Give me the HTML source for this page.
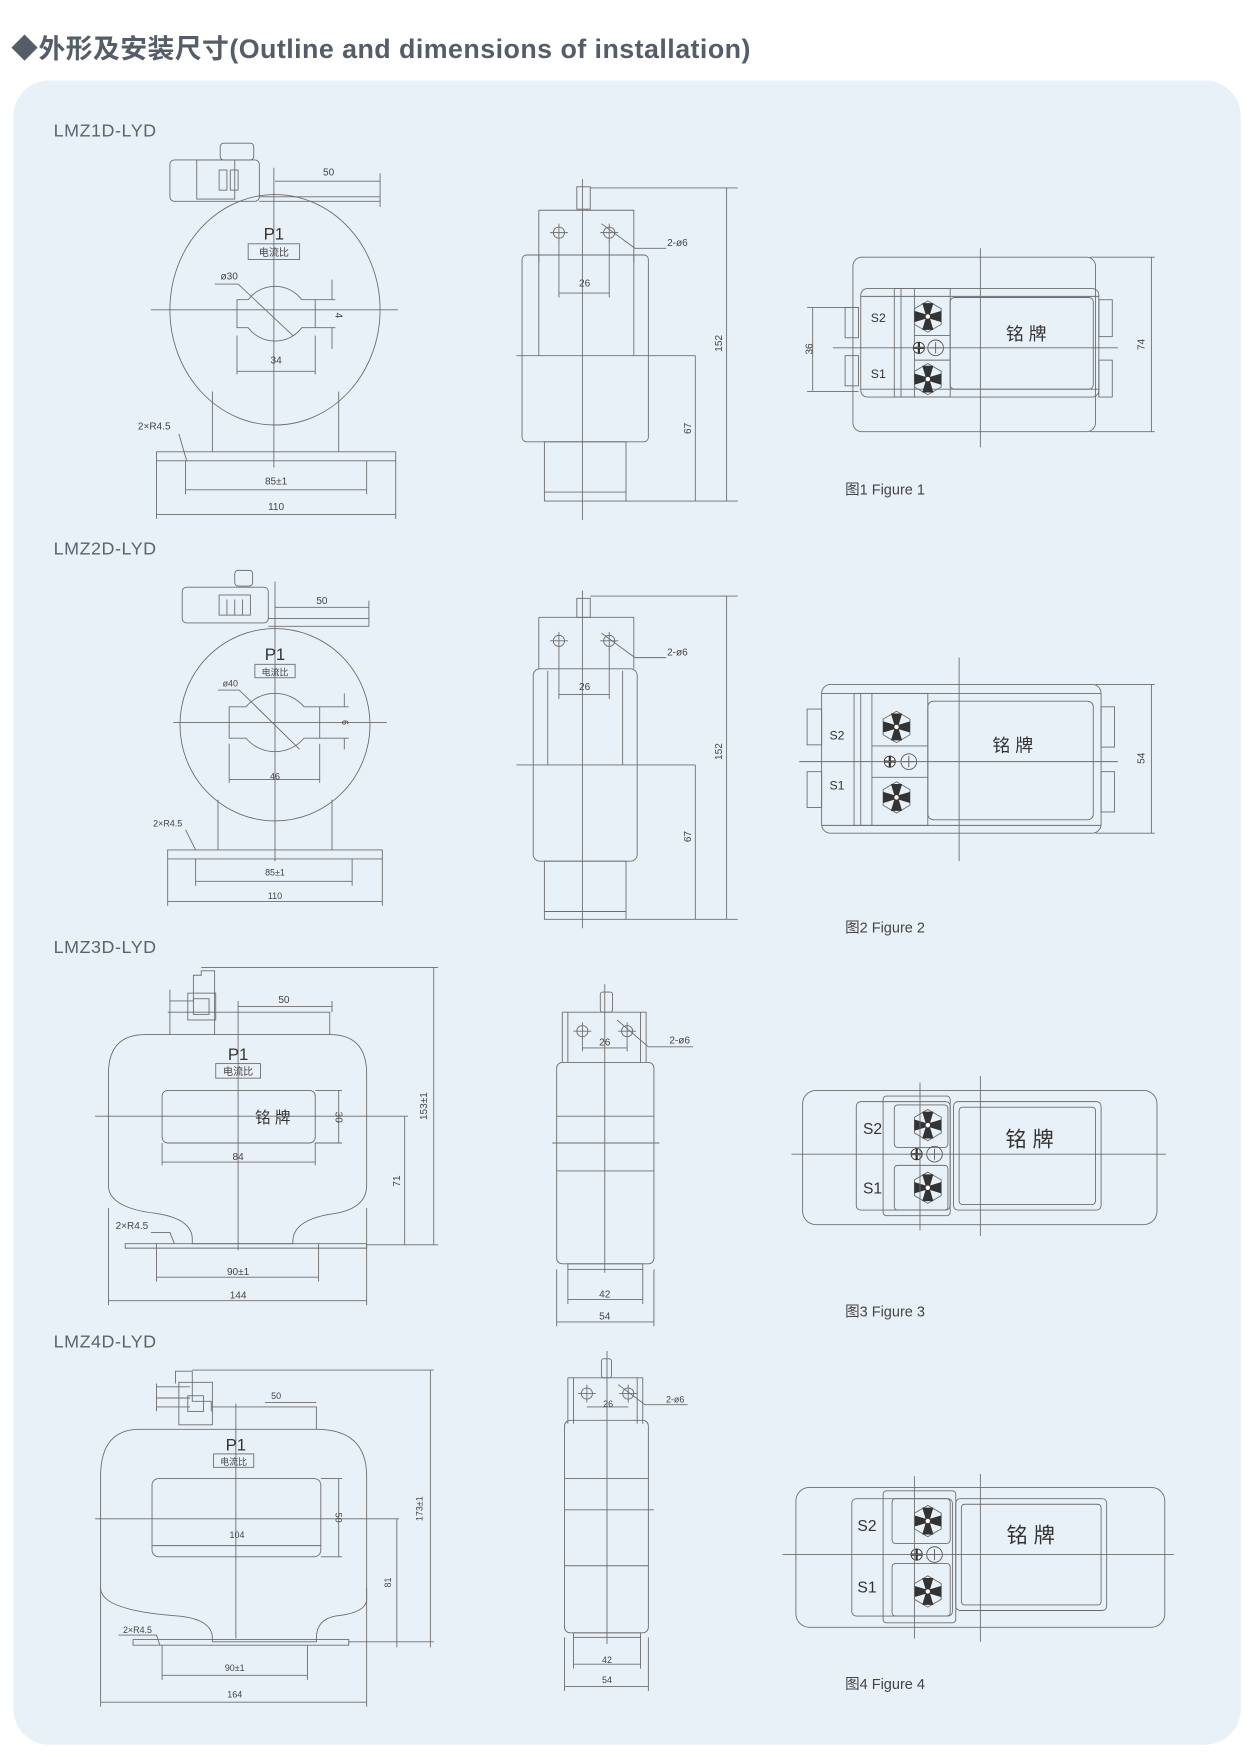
<!DOCTYPE html>
<html><head><meta charset="utf-8"><style>
html,body{margin:0;padding:0;background:#fff;}
svg{display:block;}
text{font-family:"Liberation Sans","Noto Sans CJK SC",sans-serif;fill:#555;}
.l{stroke:#6d6d6d;stroke-width:0.8;fill:none;}
.d{font-size:9px;text-anchor:middle;fill:#444;}
.t{font-size:16px;fill:#5a6470;letter-spacing:0.5px;}
</style></head><body>
<svg width="1252" height="1757" viewBox="0 0 1120 1571" preserveAspectRatio="none" xmlns="http://www.w3.org/2000/svg">
<defs>
<g id="fan"><polygon points="0,-14 12,-7 12,7 0,14 -12,7 -12,-7" class="l"/>
<path d="M-2,-2 L-5,-12 L5,-12 L2,-2 L12,-5 L12,5 L2,2 L5,12 L-5,12 L-2,2 L-12,5 L-12,-5Z" fill="#333"/><circle r="2" fill="#fff"/></g>
<g id="fans"><circle r="5" fill="#fff" stroke="#333" stroke-width="0.8"/><path d="M0,-5V5M-5,0H5" stroke="#333" stroke-width="2"/></g>
<g id="plus"><circle r="7" fill="none" stroke="#555" stroke-width="0.8"/><path d="M0,-5V5M-5,0H5" stroke="#555" stroke-width="0.8"/></g>
<g id="hole"><circle r="5" class="l"/><path d="M0,-8V8M-8,0H8" class="l"/></g>
</defs>
<rect x="0" y="0" width="1120" height="1571" fill="#fff"/>
<text x="10" y="52" style="font-size:24px;font-weight:bold;fill:#555d68;letter-spacing:0.4px">◆外形及安装尺寸(Outline and dimensions of installation)</text>
<rect x="12" y="72" width="1098" height="1488" rx="32" fill="#e9f1f8"/>

<text x="48" y="122" class="t">LMZ1D-LYD</text>
<text x="48" y="496" class="t">LMZ2D-LYD</text>
<text x="48" y="852" class="t">LMZ3D-LYD</text>
<text x="48" y="1205" class="t">LMZ4D-LYD</text>

<!-- FIG 1 front -->
<g>
<rect x="152" y="143" width="80" height="37" rx="4" class="l"/>
<rect x="176" y="143" width="34" height="35" class="l"/>
<rect x="196" y="152" width="7" height="18" class="l"/><rect x="206" y="152" width="7" height="18" class="l"/>
<rect x="197" y="128" width="30" height="15" rx="3" class="l"/>
<path d="M232,176H340V185M232,180H340" class="l"/>
<ellipse cx="246" cy="277" rx="94" ry="103" class="l"/>
<path d="M222,268 A30,30 0 0 1 270,268 H282 V293 H270 A30,30 0 0 1 222,293 H212 V268 Z" class="l"/>
<path d="M190,350V404M303,350V404M140,404H354V412H140Z" class="l"/>
<path d="M245,150V418M135,277H356" class="l"/>
<path d="M246,162H340M340,155V176" class="l"/><text x="294" y="157" class="d">50</text>
<text x="245" y="214" style="font-size:15px;text-anchor:middle;fill:#333">P1</text>
<rect x="222" y="218" width="46" height="14" class="l"/><text x="245" y="229" class="d">电流比</text>
<text x="205" y="250" class="d">ø30</text><path d="M192,254H213L262,300" class="l"/>
<path d="M212,300V335M282,300V335M212,332H282" class="l"/><text x="247" y="325" class="d">34</text>
<path d="M282,268H300M282,293H300M297,250V268M297,293V312" class="l"/><text x="303" y="285" class="d" transform="rotate(90 303 282)">4</text>
<path d="M166,412V442M328,412V442M166,438H328" class="l"/><text x="247" y="433" class="d">85±1</text>
<path d="M140,412V464M354,412V464M140,460H354" class="l"/><text x="247" y="456" class="d">110</text>
<text x="138" y="384" class="d">2×R4.5</text><path d="M160,388L167,412" class="l"/>
</g>
<!-- FIG 1 side -->
<g>
<rect x="516" y="167" width="12" height="20" class="l"/>
<path d="M482,188H567V235M482,188V235" class="l"/>
<rect x="467" y="228" width="113" height="167" rx="4" class="l"/>
<path d="M482,228V318M567,228V318M462,318H622" class="l"/>
<rect x="487" y="395" width="73" height="53" class="l"/><path d="M487,440H560" class="l"/>
<path d="M521,160V465" class="l"/>
<use href="#hole" x="500" y="208"/><use href="#hole" x="545" y="208"/>
<path d="M538,200L568,222H596" class="l"/><text x="606" y="220" class="d">2-ø6</text>
<path d="M500,215V266M545,215V266M500,262H545" class="l"/><text x="523" y="256" class="d">26</text>
<path d="M528,168H660M560,448H660M650,168V448M622,318V448" class="l"/>
<text x="646" y="307" class="d" transform="rotate(-90 646 307)">152</text>
<text x="618" y="383" class="d" transform="rotate(-90 618 383)">67</text>
</g>
<!-- FIG 1 top -->
<g>
<rect x="763" y="230" width="217" height="156" rx="8" class="l"/>
<rect x="770" y="258" width="213" height="97" rx="6" class="l"/>
<path d="M770,265H983M770,348H983" class="l"/>
<rect x="800" y="258" width="50" height="97" class="l"/><path d="M806,258V355M818,258V355M818,300H850M818,322H850" class="l"/>
<rect x="850" y="266" width="128" height="82" rx="4" class="l"/>
<rect x="756" y="275" width="12" height="27" class="l"/><rect x="756" y="318" width="12" height="27" class="l"/>
<rect x="983" y="268" width="12" height="33" class="l"/><rect x="983" y="322" width="12" height="33" class="l"/>
<use href="#fan" x="830" y="283"/><use href="#fan" x="830" y="339"/><use href="#fans" x="822" y="311"/><use href="#plus" x="837" y="311"/>
<text x="779" y="288" style="font-size:11px;fill:#333">S2</text><text x="779" y="338" style="font-size:11px;fill:#333">S1</text>
<text x="918" y="304" style="font-size:16px;text-anchor:middle;fill:#333">铭 牌</text>
<path d="M877,222V400M745,311H1000M722,275H768M722,350H768M727,275V350M975,230H1033M975,386H1033M1030,230V386" class="l"/>
<text x="727" y="312" class="d" transform="rotate(-90 727 312)">36</text>
<text x="1024" y="308" class="d" transform="rotate(-90 1024 308)">74</text>
<text x="756" y="442" style="font-size:13px;fill:#444">图1 Figure 1</text>
</g>

<!-- FIG 2 front -->
<g>
<rect x="163" y="525" width="77" height="32" rx="4" class="l"/>
<rect x="196" y="532" width="28" height="18" class="l"/><path d="M203,536V550M210,536V550M217,536V550" class="l"/>
<rect x="210" y="510" width="16" height="14" rx="3" class="l"/>
<path d="M240,553H330V560H240" class="l"/>
<ellipse cx="246" cy="648" rx="85" ry="86" class="l"/>
<path d="M220,632 A34,34 0 0 1 272,632 H286 V660 H272 A34,34 0 0 1 220,660 H205 V632 Z" class="l"/>
<path d="M195,715V760M297,715V760M150,760H342V768H150Z" class="l"/>
<path d="M246,520V770M155,646H346" class="l"/>
<path d="M246,543H330M330,537V553" class="l"/><text x="288" y="540" class="d">50</text>
<text x="246" y="590" style="font-size:15px;text-anchor:middle;fill:#333">P1</text>
<rect x="228" y="594" width="36" height="12" class="l"/><text x="246" y="604" class="d" style="font-size:8px">电流比</text>
<text x="206" y="614" class="d" style="font-size:8px">ø40</text><path d="M195,617H214L268,670" class="l"/>
<path d="M205,665V700M286,665V700M205,697H286" class="l"/><text x="246" y="697" class="d" style="font-size:8px">46</text>
<path d="M286,632H312M286,660H312M308,620V632M308,660V670" class="l"/><text x="306" y="646" class="d" style="font-size:8px" transform="rotate(90 306 646)">6</text>
<path d="M175,768V792M315,768V792M175,788H315" class="l"/><text x="246" y="783" class="d" style="font-size:8px">85±1</text>
<path d="M150,768V810M342,768V810M150,806H342" class="l"/><text x="246" y="804" class="d" style="font-size:8px">110</text>
<text x="150" y="739" class="d" style="font-size:8px">2×R4.5</text><path d="M166,742L175,760" class="l"/>
</g>
<!-- FIG 2 side -->
<g>
<rect x="516" y="535" width="12" height="17" class="l"/>
<path d="M482,552H567V598M482,552V598" class="l"/>
<rect x="477" y="598" width="93" height="172" rx="6" class="l"/>
<path d="M490,600V684M557,600V684M462,684H622" class="l"/>
<rect x="487" y="770" width="73" height="52" class="l"/><path d="M487,815H560" class="l"/>
<path d="M521,528V830" class="l"/>
<use href="#hole" x="500" y="573"/><use href="#hole" x="545" y="573"/>
<path d="M538,566L568,588H596" class="l"/><text x="606" y="586" class="d">2-ø6</text>
<path d="M500,580V625M545,580V625M500,621H545" class="l"/><text x="523" y="617" class="d">26</text>
<path d="M528,533H660M560,822H660M650,533V822M622,684V822" class="l"/>
<text x="646" y="672" class="d" transform="rotate(-90 646 672)">152</text>
<text x="618" y="748" class="d" transform="rotate(-90 618 748)">67</text>
</g>
<!-- FIG 2 top -->
<g>
<rect x="735" y="612" width="250" height="133" rx="8" class="l"/>
<path d="M735,620H985M735,738H985" class="l"/>
<rect x="764" y="620" width="66" height="118" class="l"/><path d="M770,620V738M780,620V738M780,667H830M780,695H830" class="l"/>
<rect x="830" y="627" width="148" height="106" rx="5" class="l"/>
<rect x="722" y="634" width="13" height="32" class="l"/><rect x="722" y="690" width="13" height="32" class="l"/>
<rect x="985" y="632" width="12" height="36" class="l"/><rect x="985" y="690" width="12" height="36" class="l"/>
<use href="#fan" x="802" y="650"/><use href="#fan" x="802" y="713"/><use href="#fans" x="796" y="681"/><use href="#plus" x="813" y="681"/>
<text x="742" y="661" style="font-size:11px;fill:#333">S2</text><text x="742" y="706" style="font-size:11px;fill:#333">S1</text>
<text x="906" y="672" style="font-size:16px;text-anchor:middle;fill:#333">铭 牌</text>
<path d="M858,588V770M715,681H1000M980,612H1033M980,745H1033M1030,612V745" class="l"/>
<text x="1024" y="678" class="d" transform="rotate(-90 1024 678)">54</text>
<text x="756" y="834" style="font-size:13px;fill:#444">图2 Figure 2</text>
</g>

<!-- FIG 3 front -->
<g>
<path d="M152,885V895H173V872H180V868H192V925" class="l"/>
<rect x="168" y="888" width="25" height="24" class="l"/><rect x="173" y="893" width="14" height="14" class="l"/>
<path d="M152,895V925M193,905H295V925M150,905H193" class="l"/>
<path d="M130,925H295 Q328,925 328,960 V1060 Q328,1080 300,1085 Q262,1090 262,1110 V1112 H172 V1108 Q172,1090 140,1085 Q97,1080 97,1060 V960 Q97,925 130,925Z" class="l"/>
<path d="M112,1112H328V1116H112Z" class="l"/>
<rect x="145" y="975" width="137" height="47" rx="5" class="l"/>
<text x="244" y="1004" style="font-size:14px;text-anchor:middle;fill:#333">铭 牌</text>
<path d="M213,895V1118M85,998H365" class="l"/>
<path d="M213,900H297M297,895V905" class="l"/><text x="254" y="897" class="d">50</text>
<text x="213" y="948" style="font-size:15px;text-anchor:middle;fill:#333">P1</text>
<rect x="193" y="951" width="40" height="13" class="l"/><text x="213" y="961" class="d">电流比</text>
<path d="M282,975H306M282,1022H306M303,975V1022" class="l"/><text x="300" y="999" class="d" transform="rotate(90 300 999)">30</text>
<path d="M145,1022V1042M282,1022V1042M145,1039H282" class="l"/><text x="213" y="1037" class="d">84</text>
<path d="M140,1112V1146M285,1112V1146M140,1142H285" class="l"/><text x="213" y="1140" class="d">90±1</text>
<path d="M97,1080V1167M328,1080V1167M97,1163H328" class="l"/><text x="213" y="1161" class="d">144</text>
<text x="118" y="1099" class="d">2×R4.5</text><path d="M135,1102H152L156,1112" class="l"/>
<path d="M180,865H392M328,1113H392M388,865V1113M362,998V1113" class="l"/>
<text x="382" y="989" class="d" transform="rotate(-90 382 989)">153±1</text>
<text x="358" y="1056" class="d" transform="rotate(-90 358 1056)">71</text>
</g>
<!-- FIG 3 side -->
<g>
<rect x="537" y="887" width="11" height="18" rx="2" class="l"/>
<path d="M503,905H578V950M503,905V950M508,905V950M573,905V950" class="l"/>
<rect x="498" y="950" width="87" height="180" rx="5" class="l"/>
<path d="M498,998H585M498,1047H585M494,1022H590" class="l"/>
<rect x="508" y="1130" width="67" height="5" class="l"/>
<path d="M541,880V1138" class="l"/>
<use href="#hole" x="521" y="922"/><use href="#hole" x="561" y="922"/>
<path d="M552,912L580,936H620" class="l"/><text x="608" y="933" class="d">2-ø6</text>
<path d="M521,930V940M561,930V940M521,937H561" class="l"/><text x="541" y="935" class="d">26</text>
<path d="M508,1135V1166M575,1135V1166M508,1162H575" class="l"/><text x="541" y="1160" class="d">42</text>
<path d="M498,1135V1186M585,1135V1186M498,1182H585" class="l"/><text x="541" y="1180" class="d">54</text>
</g>
<!-- FIG 3 top -->
<g>
<rect x="718" y="975" width="317" height="120" rx="12" class="l"/>
<rect x="766" y="985" width="84" height="97" rx="4" class="l"/>
<rect x="790" y="980" width="60" height="107" rx="3" class="l"/>
<rect x="800" y="988" width="48" height="38" rx="3" class="l"/><rect x="800" y="1042" width="48" height="40" rx="3" class="l"/>
<rect x="853" y="985" width="132" height="97" rx="4" class="l"/><rect x="858" y="990" width="122" height="87" rx="3" class="l"/>
<use href="#fan" x="830" y="1006"/><use href="#fan" x="830" y="1062"/><use href="#fans" x="820" y="1032"/><use href="#plus" x="836" y="1032"/>
<text x="772" y="1014" style="font-size:14px;fill:#333">S2</text><text x="772" y="1067" style="font-size:14px;fill:#333">S1</text>
<text x="921" y="1025" style="font-size:19px;text-anchor:middle;fill:#333">铭 牌</text>
<path d="M877,962V1105M823,968V1100M708,1032H1043" class="l"/>
<text x="756" y="1177" style="font-size:13px;fill:#444">图3 Figure 3</text>
</g>

<!-- FIG 4 front -->
<g>
<path d="M157,1237V1226H172V1253H189V1262" class="l"/>
<path d="M140,1240H170M140,1250H170M140,1258H170M140,1237V1262" class="l"/>
<rect x="160" y="1236" width="30" height="38" class="l"/><rect x="168" y="1248" width="14" height="14" class="l"/>
<path d="M190,1258H283V1278" class="l"/>
<path d="M125,1278H283 Q328,1278 328,1320 V1430 Q328,1442 300,1445 Q283,1448 283,1465 V1468 H190 V1465 Q190,1448 160,1445 Q90,1440 90,1420 V1320 Q90,1278 125,1278Z" class="l"/>
<path d="M119,1466H312V1471H119Z" class="l"/>
<rect x="136" y="1322" width="151" height="70" rx="6" class="l"/>
<path d="M211,1255V1465M85,1358H357" class="l"/>
<path d="M237,1254H283" class="l"/><text x="247" y="1251" class="d" style="font-size:8px">50</text>
<text x="211" y="1297" style="font-size:15px;text-anchor:middle;fill:#333">P1</text>
<rect x="191" y="1300" width="36" height="12" class="l"/><text x="209" y="1310" class="d" style="font-size:8px">电流比</text>
<path d="M287,1322H306M287,1392H306M303,1322V1392" class="l"/><text x="300" y="1357" class="d" style="font-size:8px" transform="rotate(90 300 1357)">50</text>
<path d="M136,1382H287" class="l"/><text x="212" y="1375" class="d" style="font-size:8px">104</text>
<path d="M145,1471V1502M275,1471V1502M145,1498H275" class="l"/><text x="210" y="1494" class="d" style="font-size:8px">90±1</text>
<path d="M90,1420V1526M328,1420V1526M90,1522H328" class="l"/><text x="210" y="1518" class="d" style="font-size:8px">164</text>
<text x="123" y="1460" class="d" style="font-size:8px">2×R4.5</text><path d="M106,1462H140L143,1471" class="l"/>
<path d="M172,1225H388M312,1468H388M385,1225V1473M355,1358V1473" class="l"/>
<text x="378" y="1349" class="d" style="font-size:8px" transform="rotate(-90 378 1349)">173±1</text>
<text x="350" y="1415" class="d" style="font-size:8px" transform="rotate(-90 350 1415)">81</text>
</g>
<!-- FIG 4 side -->
<g>
<rect x="538" y="1215" width="9" height="17" rx="2" class="l"/>
<path d="M508,1232H575V1273M508,1232V1273M513,1232V1273M570,1232V1273" class="l"/>
<rect x="505" y="1270" width="75" height="190" rx="5" class="l"/>
<path d="M505,1322H580M505,1400H580M505,1350H585" class="l"/>
<rect x="513" y="1460" width="60" height="4" class="l"/>
<path d="M543,1208V1470" class="l"/>
<use href="#hole" x="525" y="1246"/><use href="#hole" x="562" y="1246"/>
<path d="M553,1238L577,1256H615" class="l"/><text x="604" y="1254" class="d" style="font-size:8px">2-ø6</text>
<path d="M525,1258H562" class="l"/><text x="544" y="1258" class="d" style="font-size:8px">26</text>
<path d="M513,1464V1492M573,1464V1492M513,1488H573" class="l"/><text x="543" y="1487" class="d" style="font-size:8px">42</text>
<path d="M505,1464V1512M580,1464V1512M505,1508H580" class="l"/><text x="543" y="1505" class="d" style="font-size:8px">54</text>
</g>
<!-- FIG 4 top -->
<g>
<rect x="712" y="1330" width="330" height="125" rx="12" class="l"/>
<rect x="762" y="1340" width="90" height="105" rx="4" class="l"/>
<rect x="790" y="1333" width="65" height="118" rx="3" class="l"/>
<rect x="798" y="1340" width="52" height="40" rx="3" class="l"/><rect x="798" y="1398" width="52" height="47" rx="3" class="l"/>
<rect x="855" y="1340" width="135" height="100" rx="4" class="l"/><rect x="860" y="1345" width="125" height="90" rx="3" class="l"/>
<use href="#fan" x="830" y="1360"/><use href="#fan" x="830" y="1423"/><use href="#fans" x="820" y="1390"/><use href="#plus" x="836" y="1390"/>
<text x="767" y="1369" style="font-size:14px;fill:#333">S2</text><text x="767" y="1424" style="font-size:14px;fill:#333">S1</text>
<text x="922" y="1379" style="font-size:19px;text-anchor:middle;fill:#333">铭 牌</text>
<path d="M877,1318V1468M818,1320V1465M700,1390H1050" class="l"/>
<text x="756" y="1510" style="font-size:13px;fill:#444">图4 Figure 4</text>
</g>
</svg>
</body></html>
